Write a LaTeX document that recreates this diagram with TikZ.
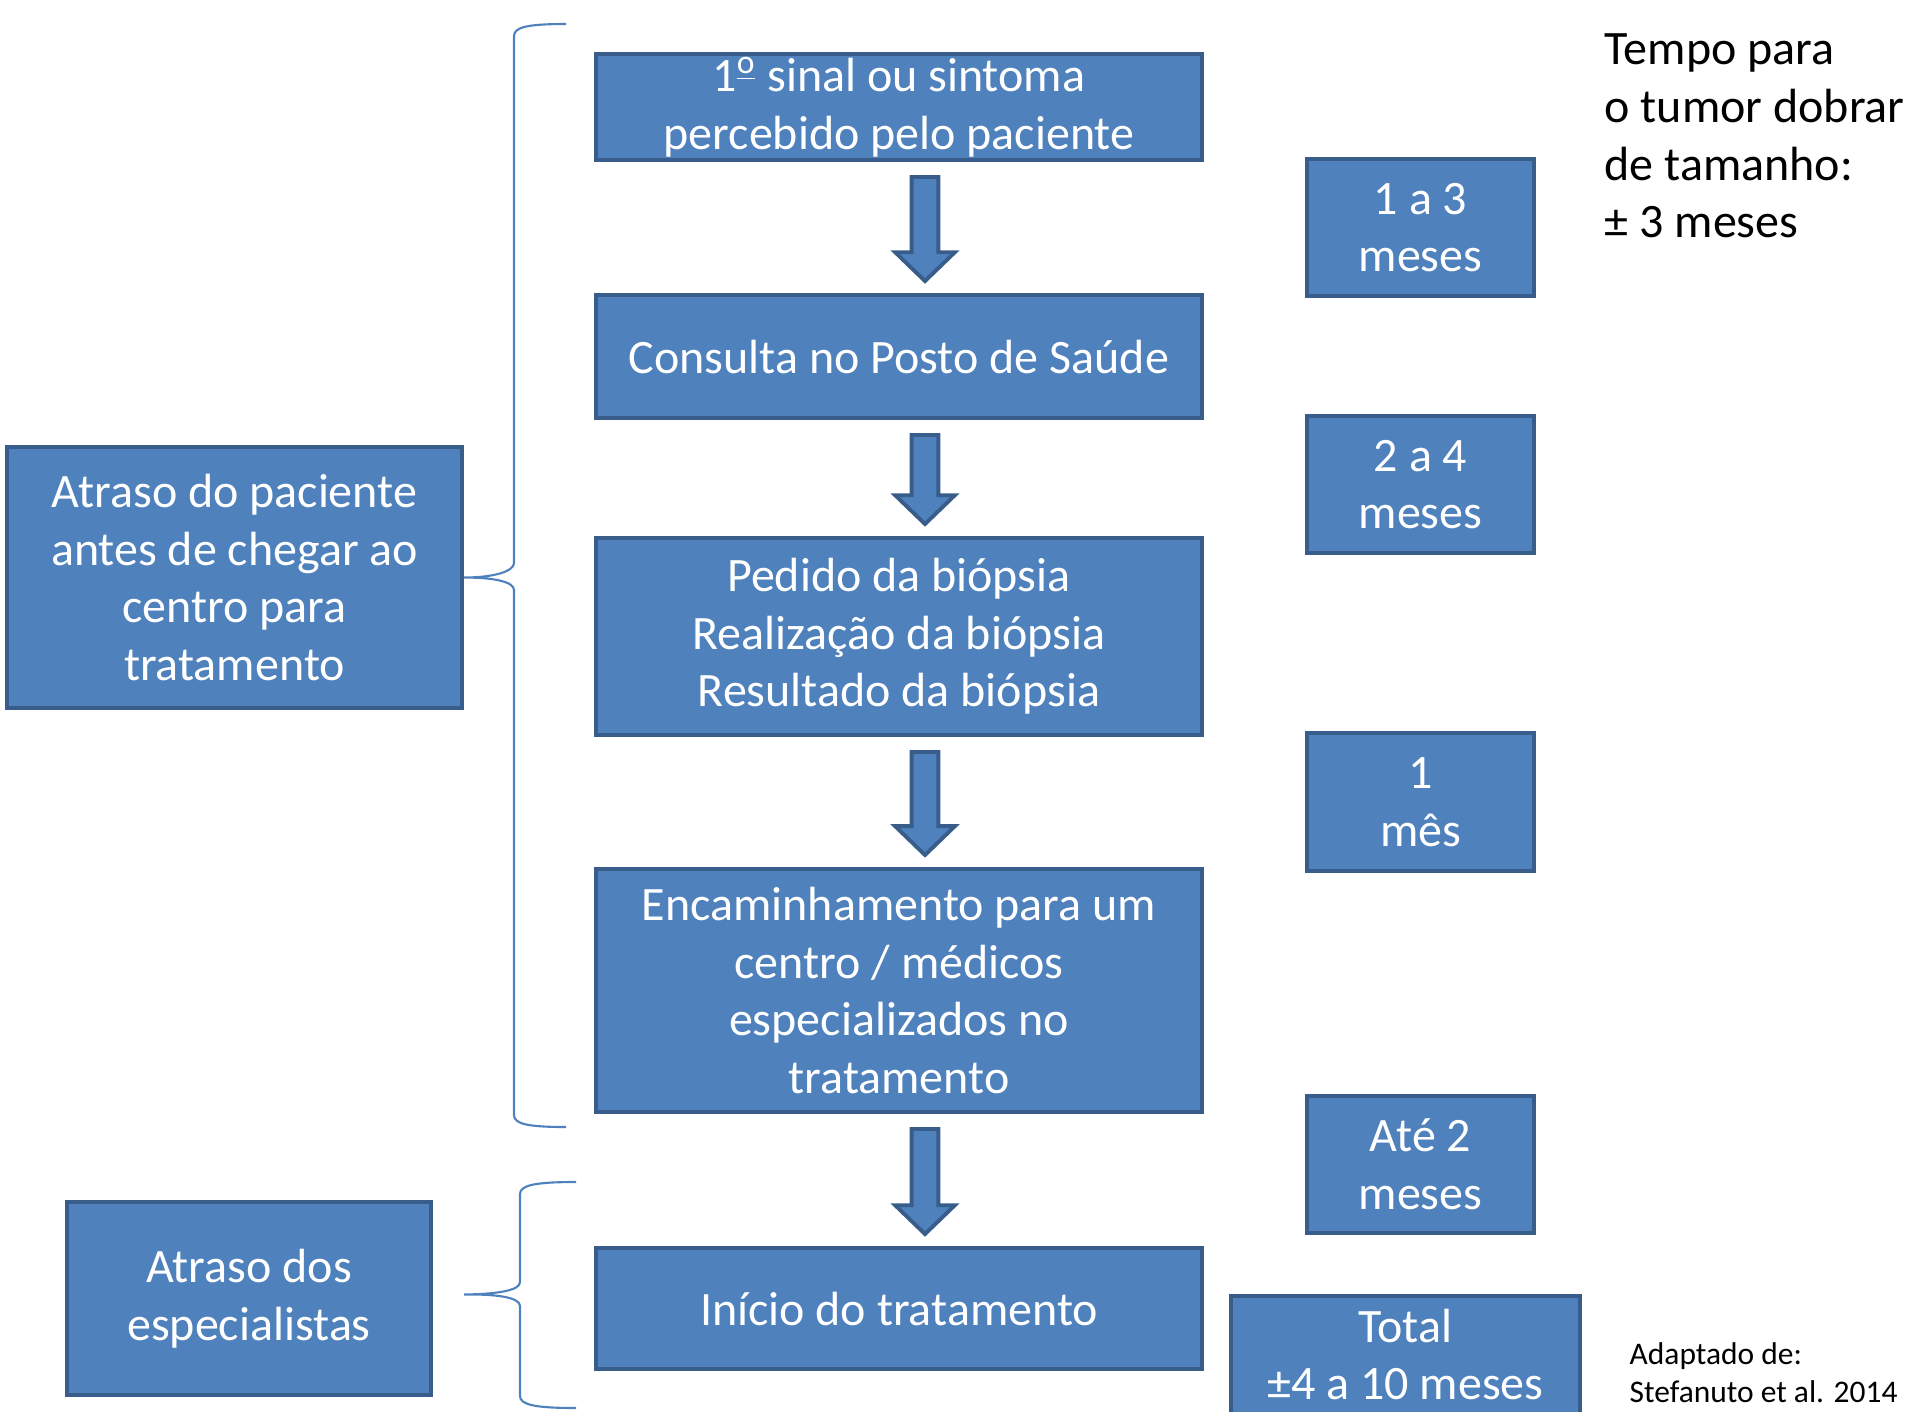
\documentclass[tikz,border=0pt]{standalone}
\usepackage{fontspec}
\setmainfont{Carlito}
\usetikzlibrary{calc}
\definecolor{boxfill}{RGB}{79,129,189}
\definecolor{boxline}{RGB}{56,93,138}
\tikzset{
    stage/.style={draw=boxline, fill=boxfill, line width=1.1pt, text=white, align=center,
        inner sep=0pt, font=\fontsize{13.65}{16.4}\selectfont},
    blockarrow/.style={draw=boxline, fill=boxfill, line width=1.1pt, line join=miter},
    bracket/.style={draw=boxfill, line width=0.6pt},
    note/.style={align=left, inner sep=0pt, font=\fontsize{13.65}{16.4}\selectfont},
}
% block arrow from one stage down to the next
\newcommand{\flowarrow}[2]{%
    \draw[blockarrow] let \p1=($(#1.south)+(26,15)$), \p2=($(#2.north)+(26,-12)$) in
        (\x1-3.8pt,\y1) -- (\x1+3.8pt,\y1) -- (\x1+3.8pt,\y2+8.2pt) -- (\x1+8.5pt,\y2+8.2pt)
        -- (\x2,\y2) -- (\x1-8.5pt,\y2+8.2pt) -- (\x1-3.8pt,\y2+8.2pt) -- cycle;}

\begin{document}
\begin{tikzpicture}[x=0.01cm, y=-0.01cm]
    \useasboundingbox (0,0) rectangle (1920,1411);

    % Stages
    \node[stage, minimum width=6.06cm, minimum height=1.06cm] (symptom) at (899,107) {1\textsuperscript{\underline{o}} sinal ou sintoma\\percebido pelo paciente};
    \node[stage, minimum width=6.06cm, minimum height=1.23cm] (consult) at (899,356.5) {Consulta no Posto de Saúde};
    \node[stage, minimum width=6.06cm, minimum height=1.97cm] (biopsy) at (899,636.5) {Pedido da biópsia\\Realização da biópsia\\Resultado da biópsia};
    \node[stage, minimum width=6.06cm, minimum height=2.43cm] (referral) at (899,990.5) {Encaminhamento para um\\centro / médicos\\especializados no\\tratamento};
    \node[stage, minimum width=6.06cm, minimum height=1.21cm] (treatment) at (899,1308.5) {Início do tratamento};

    % Arrows
    \flowarrow{symptom}{consult}
    \flowarrow{consult}{biopsy}
    \flowarrow{biopsy}{referral}
    \flowarrow{referral}{treatment}

    % Durations
    \node[stage, minimum width=2.27cm, minimum height=1.37cm] (durA) at (1420.5,227.5) {1 a 3\\meses};
    \node[stage, minimum width=2.27cm, minimum height=1.37cm] (durB) at (1420.5,484.5) {2 a 4\\meses};
    \node[stage, minimum width=2.27cm, minimum height=1.38cm] (durC) at (1420.5,802) {1\\mês};
    \node[stage, minimum width=2.27cm, minimum height=1.37cm] (durD) at (1420.5,1164.5) {Até 2\\meses};
    \node[stage, minimum width=3.49cm, inner ysep=0.13cm, anchor=north] (total) at (1405.5,1294) {Total\\±4 a 10 meses\rule[-10pt]{0pt}{0pt}};

    % Delays
    \node[stage, minimum width=4.55cm, minimum height=2.61cm] (patient) at (234.5,577.5) {Atraso do paciente\\antes de chegar ao\\centro para\\tratamento};
    \node[stage, minimum width=3.64cm, minimum height=1.93cm] (specialist) at (249,1298.5) {Atraso dos\\especialistas};

    % Braces
    \draw[bracket] (566,24) .. controls (528,24) and (514,27) .. (514,36) -- (514,563)
        .. controls (514,571) and (495,577.5) .. (patient.east)
        .. controls (495,577.5) and (514,582) .. (514,590) -- (514,1115)
        .. controls (514,1124) and (528,1127) .. (566,1127);
    \coordinate (spectip) at ($(specialist.east)+(31,-4)$);
    \draw[bracket] (576,1182) .. controls (536,1182) and (520,1185) .. (520,1194) -- (520,1282)
        .. controls (520,1290) and (500,1294) .. (spectip)
        .. controls (500,1294) and (520,1298) .. (520,1306) -- (520,1396)
        .. controls (520,1405) and (536,1408) .. (576,1408);

    % Notes
    \node[note, anchor=west] (doubling) at (1604,136) {Tempo para\\o tumor dobrar\\de tamanho:\\± 3 meses};
    \node[note, anchor=west, font=\fontsize{8.95}{10.9}\selectfont] (source) at (1629,1373) {Adaptado de:\\Stefanuto et al. 2014};
\end{tikzpicture}
\end{document}
